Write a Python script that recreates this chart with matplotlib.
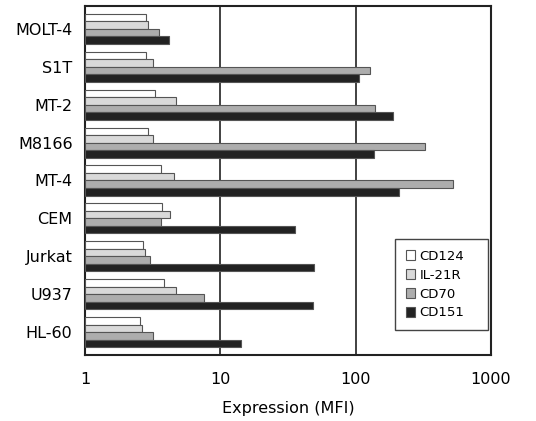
import matplotlib
matplotlib.use("Agg")
import matplotlib.pyplot as plt
import numpy as np

# cell lines, top to bottom
cells = ["MOLT-4", "S1T", "MT-2", "M8166", "MT-4", "CEM", "Jurkat", "U937", "HL-60"]
markers = ["CD124", "IL-21R", "CD70", "CD151"]

cd124 = [2.8, 2.8, 3.27, 2.9, 3.66, 3.72, 2.68, 3.85, 2.56]
il21r = [2.9, 3.2, 4.67, 3.16, 4.54, 4.26, 2.77, 4.67, 2.62]
cd70 = [3.5, 127, 140, 325, 526, 3.66, 3.02, 7.55, 3.19]
cd151 = [4.2, 106, 188, 136, 209, 35.5, 49, 48.2, 14.2]

colors = ["white", "#d9d9d9", "#adadad", "#222222"]

plt.rcParams['font.family'] = 'DejaVu Sans'

fig = plt.figure(figsize=(5.36, 4.21), dpi=100)
ax = fig.add_axes([0.1586, 0.1568, 0.7575, 0.829])

y = np.arange(len(cells))
h = 0.198
series = [cd124, il21r, cd70, cd151]
for i, vals in enumerate(series):
    off = (i - 1.5) * h
    # bars start at 1 on the log axis
    ax.barh(y + off, np.array(vals) - 1, left=1, height=h, color=colors[i],
            edgecolor="#555555", lw=0.8, label=markers[i], zorder=3)

ax.set_xscale("log")
ax.set_xlim(1, 1000)
ax.set_ylim(len(cells) - 0.4, -0.6)
ax.set_yticks(y)
ax.set_yticklabels(cells, fontsize=11.5)
ax.set_xticks([1, 10, 100, 1000])
ax.set_xticklabels(["1", "10", "100", "1000"], fontsize=11.5)
ax.minorticks_off()
ax.tick_params(axis="y", length=0, pad=9)
ax.tick_params(axis="x", length=0, pad=12)

for g in [10, 100]:
    ax.axvline(g, color="#333333", lw=1.3, zorder=1)

for s in ax.spines.values():
    s.set_linewidth(1.5)
    s.set_color("#222222")

ax.set_xlabel("Expression (MFI)", fontsize=11.5, labelpad=10)

leg = ax.legend(loc="lower left", bbox_to_anchor=(0.7635, 0.0716, 0.229, 0.2414),
                mode="expand", fontsize=9.5,
                fancybox=False, edgecolor="#444444", framealpha=1,
                handlelength=0.75, handleheight=0.75, handletextpad=0.3,
                labelspacing=0.45, borderpad=0.8, borderaxespad=0)
leg.get_frame().set_linewidth(1.0)

plt.savefig("out.png", dpi=100)
